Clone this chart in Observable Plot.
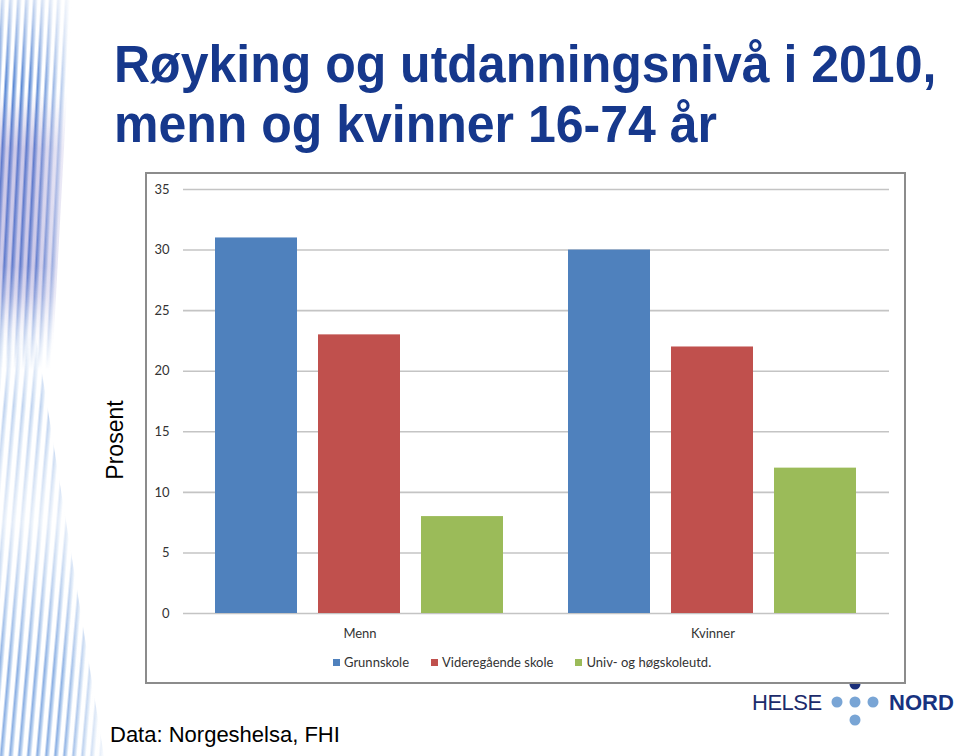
<!DOCTYPE html>
<html>
<head>
<meta charset="utf-8">
<script src="https://cdn.jsdelivr.net/npm/d3@7"></script>
<script src="https://cdn.jsdelivr.net/npm/@observablehq/plot@0.6"></script>
<style>
  body { margin: 0; background: #fff; }
  #page { position: relative; width: 960px; height: 756px; overflow: hidden; background: #fff;
          font-family: "Liberation Sans", Arial, sans-serif; }
  .stripes { position: absolute; left: 0; }
  #stripesTop { top: 0; height: 370px; width: 85px;
    clip-path: polygon(0 0, 72px 0, 52px 370px, 0 370px);
    background:
      linear-gradient(to right, rgba(255,255,255,0) 0%, rgba(255,255,255,0) 40%, #fff 95%),
      linear-gradient(to bottom, rgba(110,100,190,0) 25%, rgba(110,100,190,0.35) 40%, rgba(110,100,190,0.35) 80%, rgba(110,100,190,0) 95%),
      repeating-linear-gradient(93deg, rgba(255,255,255,0) 0px, rgba(60,115,205,0.85) 2px, rgba(90,140,215,0.6) 4px, rgba(255,255,255,0) 6px, rgba(255,255,255,0) 8px);
    -webkit-mask-image: linear-gradient(to bottom, rgba(0,0,0,0.3) 0%, #000 22%, #000 72%, rgba(0,0,0,0) 100%);
    mask-image: linear-gradient(to bottom, rgba(0,0,0,0.3) 0%, #000 22%, #000 72%, rgba(0,0,0,0) 100%); }
  #stripesBot { top: 330px; height: 426px; width: 110px;
    clip-path: polygon(0 0, 35px 0, 104px 426px, 0 426px);
    background:
      linear-gradient(to right, rgba(255,255,255,0) 0%, rgba(255,255,255,0) 55%, #fff 100%),
      repeating-linear-gradient(95deg, rgba(255,255,255,0) 0px, rgba(110,155,220,0.8) 2px, rgba(140,180,230,0.6) 4px, rgba(255,255,255,0) 6px, rgba(255,255,255,0) 9px);
    -webkit-mask-image: linear-gradient(to bottom, rgba(0,0,0,0) 0%, rgba(0,0,0,0.55) 18%, rgba(0,0,0,0.25) 45%, #000 80%, #000 100%);
    mask-image: linear-gradient(to bottom, rgba(0,0,0,0) 0%, rgba(0,0,0,0.55) 18%, rgba(0,0,0,0.25) 45%, #000 80%, #000 100%); }
  .title { position: absolute; left: 114px; font-size: 50px; font-weight: bold; line-height: 50px;
           color: #16388c; white-space: nowrap; transform: scaleY(1.05); transform-origin: 0 42px; }
  #box { position: absolute; left: 145px; top: 172px; width: 761px; height: 512px; box-sizing: border-box;
         border: 2px solid #8c8c8c; background: #fff; }
  #chart { position: absolute; left: 145px; top: 172px; }
  #legend { position: absolute; left: 333px; top: 654px; display: flex; gap: 0; font-family: Lato, sans-serif;
            font-size: 13px; color: #333; white-space: nowrap; line-height: 16px; }
  #legend .item { display: flex; align-items: center; margin-right: 22px; }
  #legend .sw { width: 7px; height: 7px; margin-right: 4px; }
  #prosent { position: absolute; left: 115px; top: 440px; font-size: 23px; color: #000; line-height: 1;
             transform: translate(-50%, -50%) rotate(-90deg); white-space: nowrap; }
  #caption { position: absolute; left: 110px; top: 724px; font-size: 22px; line-height: 22px; color: #000; white-space: nowrap; }
  #logo { position: absolute; left: 0; top: 0; }
</style>
</head>
<body>
<div id="page">
  <div class="stripes" id="stripesTop"></div>
  <div class="stripes" id="stripesBot"></div>
  <svg id="logo" width="960" height="756">
    <circle cx="855" cy="684" r="5.5" fill="#1a2f7a"></circle>
    <circle cx="837" cy="702" r="5.5" fill="#79a5d5"></circle>
    <circle cx="855" cy="702" r="5.5" fill="#79a5d5"></circle>
    <circle cx="873" cy="702" r="5.5" fill="#79a5d5"></circle>
    <circle cx="855" cy="720" r="5.5" fill="#79a5d5"></circle>
    <text x="752" y="710" font-family="Liberation Sans, Arial, sans-serif" font-size="22" letter-spacing="-0.5" fill="#1c2b6b">HELSE</text>
    <text x="889" y="710" font-family="Liberation Sans, Arial, sans-serif" font-size="22" font-weight="bold" fill="#17327f">NORD</text>
  </svg>
  <div id="box"></div>
  <div id="chart"></div>
  <div id="legend"></div>
  <div class="title" style="top:40px">Røyking og utdanningsnivå i 2010,</div>
  <div class="title" style="top:100px">menn og kvinner 16-74 år</div>
  <div id="prosent">Prosent</div>
  <div id="caption">Data: Norgeshelsa, FHI</div>
</div>
<script>
const groups = ["Menn", "Kvinner"];
const levels = ["Grunnskole", "Videregående skole", "Univ- og høgskoleutd."];
const mennValues = [31, 23, 8];
const kvinnerValues = [30, 22, 12];
const colors = ["#4F81BD", "#C0504D", "#9BBB59"];
const yTicks = [0, 5, 10, 15, 20, 25, 30, 35];

const data = [
  ...levels.map((l, i) => ({group: "Menn", level: l, value: mennValues[i]})),
  ...levels.map((l, i) => ({group: "Kvinner", level: l, value: kvinnerValues[i]}))
];

const chart = Plot.plot({
  width: 761,
  height: 512,
  marginLeft: 37,
  marginRight: 17,
  marginTop: 17,
  marginBottom: 71,
  style: {fontFamily: "Lato, sans-serif", fontSize: "13px", color: "#333", background: "transparent", overflow: "visible"},
  fx: {domain: groups, padding: 0, axis: "bottom", tickSize: 0, tickPadding: 15, label: null},
  x: {domain: levels, axis: null, paddingInner: 0.2, paddingOuter: 0.3},
  y: {domain: [0, 35], ticks: yTicks, tickSize: 0, tickPadding: 14, label: null},
  color: {domain: levels, range: colors},
  marks: [
    Plot.gridY(yTicks, {stroke: "#c4c4c4", strokeOpacity: 1, strokeWidth: 1.6}),
    Plot.barY(data, {fx: "group", x: "level", y: "value", fill: "level"})
  ]
});
document.getElementById("chart").appendChild(chart);

const legend = document.getElementById("legend");
levels.forEach((l, i) => {
  const item = document.createElement("div");
  item.className = "item";
  const sw = document.createElement("div");
  sw.className = "sw";
  sw.style.background = colors[i];
  const t = document.createElement("span");
  t.textContent = l;
  item.appendChild(sw);
  item.appendChild(t);
  legend.appendChild(item);
});
</script>
</body>
</html>
